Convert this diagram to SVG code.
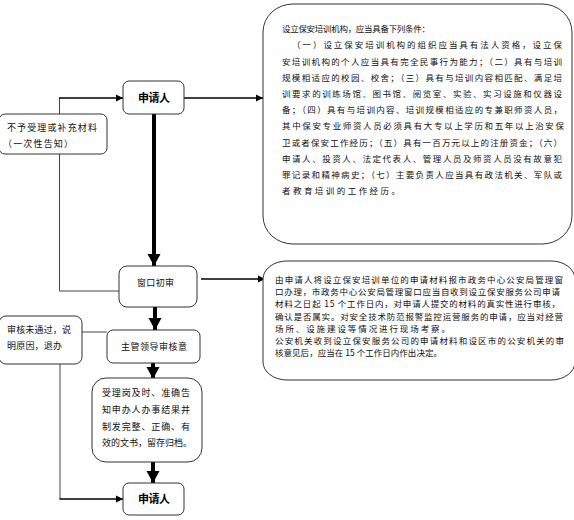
<svg xmlns="http://www.w3.org/2000/svg" width="574" height="520" viewBox="0 0 574 520">
<style>
.bg{fill:#fff}
.box{fill:#fff;stroke:#333;stroke-width:1}
.t{font-family:"Noto Sans CJK SC","Noto Sans",sans-serif;font-size:8.5px;fill:#111}
.s{font-family:"Noto Sans CJK SC","Noto Sans",sans-serif;font-size:9px;fill:#111}
.b{font-family:"Noto Sans CJK SC","Noto Sans",sans-serif;font-size:11px;font-weight:bold;fill:#000}
.thin{fill:none;stroke:#000;stroke-width:1.6}
.lin{fill:none;stroke:#444;stroke-width:1}
.thick{fill:none;stroke:#000;stroke-width:4}
</style>
<defs>
<marker id="ah" markerUnits="userSpaceOnUse" markerWidth="8" markerHeight="8" refX="7" refY="4" orient="auto">
<path d="M0,0.5 L7,4 L0,7.5 Z" fill="#000"/>
</marker>
<marker id="ahb" markerUnits="userSpaceOnUse" markerWidth="13" markerHeight="14" refX="12" refY="7" orient="auto">
<path d="M0,0.5 L12,7 L0,13.5 Z" fill="#000"/>
</marker>
</defs>
<rect class="bg" x="0" y="0" width="574" height="520"/>

<g id="connectors">
<path class="thin" d="M184 98 H263" marker-end="url(#ah)"/>
<path class="lin" d="M119 291 H59.5 V98"/>
<path class="thin" d="M59 98 H123" marker-end="url(#ah)"/>
<path class="thick" d="M154 114 V266" marker-end="url(#ahb)"/>
<path class="thin" d="M201 279 H265" marker-end="url(#ah)"/>
<path class="thick" d="M155 307 V330" marker-end="url(#ahb)"/>
<path class="lin" d="M107 332 H82"/>
<path class="lin" d="M60 364 V499"/>
<path class="thin" d="M59.5 499 H123" marker-end="url(#ah)"/>
<path class="thick" d="M153 363 V379" marker-end="url(#ahb)"/>
<path class="thick" d="M153 462 V483" marker-end="url(#ahb)"/>
</g>

<g id="conditions">
<rect class="box" x="263" y="4" width="309" height="240" rx="30" ry="28"/>
<text class="t" x="282" y="32.2" textLength="148" lengthAdjust="spacing">设立保安培训机构，应当具备下列条件：</text>
<text class="t" x="292" y="48.4" textLength="270" lengthAdjust="spacing">（一）设立保安培训机构的组织应当具有法人资格，设立保</text>
<text class="t" x="282" y="64.6" textLength="280" lengthAdjust="spacing">安培训机构的个人应当具有完全民事行为能力；（二）具有与培训</text>
<text class="t" x="282" y="80.8" textLength="280" lengthAdjust="spacing">规模相适应的校园、校舍；（三）具有与培训内容相匹配、满足培</text>
<text class="t" x="282" y="97" textLength="280" lengthAdjust="spacing">训要求的训练场馆、图书馆、阅览室、实验、实习设施和仪器设</text>
<text class="t" x="282" y="113.2" textLength="280" lengthAdjust="spacing">备；（四）具有与培训内容、培训规模相适应的专兼职师资人员，</text>
<text class="t" x="282" y="129.4" textLength="282" lengthAdjust="spacing">其中保安专业师资人员必须具有大专以上学历和五年以上治安保</text>
<text class="t" x="282" y="145.6" textLength="280" lengthAdjust="spacing">卫或者保安工作经历；（五）具有一百万元以上的注册资金；（六）</text>
<text class="t" x="282" y="161.8" textLength="280" lengthAdjust="spacing">申请人、投资人、法定代表人、管理人员及师资人员没有故意犯</text>
<text class="t" x="282" y="178" textLength="280" lengthAdjust="spacing">罪记录和精神病史；（七）主要负责人应当具有政法机关、军队或</text>
<text class="t" x="282" y="194.2" textLength="118" lengthAdjust="spacing">者教育培训的工作经历。</text>
</g>

<g id="review-note">
<rect class="box" x="263" y="261" width="312" height="119" rx="24" ry="18"/>
<text class="t" x="275" y="283.2" textLength="288" lengthAdjust="spacing">由申请人将设立保安培训单位的申请材料报市政务中心公安局管理窗</text>
<text class="t" x="275" y="295.3" textLength="285" lengthAdjust="spacing">口办理，市政务中心公安局管理窗口应当自收到设立保安服务公司申请</text>
<text class="t" x="275" y="307.4" textLength="285" lengthAdjust="spacing">材料之日起 15 个工作日内，对申请人提交的材料的真实性进行审核，</text>
<text class="t" x="275" y="319.5" textLength="288" lengthAdjust="spacing">确认是否属实。对安全技术防范报警监控运营服务的申请，应当对经营</text>
<text class="t" x="275" y="331.6" textLength="175" lengthAdjust="spacing">场所、设施建设等情况进行现场考察。</text>
<text class="t" x="275" y="343.7" textLength="289" lengthAdjust="spacing">公安机关收到设立保安服务公司的申请材料和设区市的公安机关的审</text>
<text class="t" x="275" y="355.8" textLength="167" lengthAdjust="spacing">核意见后，应当在 15 个工作日内作出决定。</text>
</g>

<g id="applicant-top">
<rect class="box" x="123" y="81" width="61" height="33" rx="6"/>
<text class="b" x="138" y="102" textLength="32" lengthAdjust="spacing">申请人</text>
</g>

<g id="reject">
<rect class="box" x="-1" y="114" width="108" height="40" rx="6"/>
<text class="s" x="7" y="131.3" textLength="90" lengthAdjust="spacing">不予受理或补充材料</text>
<text class="s" x="3" y="147.3" textLength="70" lengthAdjust="spacing">（一次性告知）</text>
</g>

<g id="window">
<rect class="box" x="119" y="266" width="78" height="41" rx="8"/>
<text class="s" x="137" y="286.3" textLength="37" lengthAdjust="spacing">窗口初审</text>
</g>

<g id="fail">
<rect class="box" x="-1" y="316" width="83" height="48" rx="7"/>
<text class="s" x="7" y="333.3" textLength="64" lengthAdjust="spacing">审核未通过，说</text>
<text class="s" x="7" y="349.3" textLength="55" lengthAdjust="spacing">明原因，退办</text>
</g>

<g id="leader">
<rect class="box" x="107" y="330" width="93" height="33" rx="6"/>
<text class="s" x="121" y="350.3" textLength="66" lengthAdjust="spacing">主管领导审核意</text>
</g>

<g id="accept">
<rect class="box" x="92" y="378" width="110" height="84" rx="14"/>
<text class="s" x="102" y="396.3" textLength="88" lengthAdjust="spacing">受理岗及时、准确告</text>
<text class="s" x="102" y="413.3" textLength="88" lengthAdjust="spacing">知申办人办事结果并</text>
<text class="s" x="102" y="430.3" textLength="88" lengthAdjust="spacing">制发完整、正确、有</text>
<text class="s" x="102" y="446.3" textLength="90" lengthAdjust="spacing">效的文书，留存归档。</text>
</g>

<g id="applicant-bottom">
<rect class="box" x="123" y="483" width="61" height="32" rx="6"/>
<text class="b" x="138" y="503" textLength="32" lengthAdjust="spacing">申请人</text>
</g>
</svg>
